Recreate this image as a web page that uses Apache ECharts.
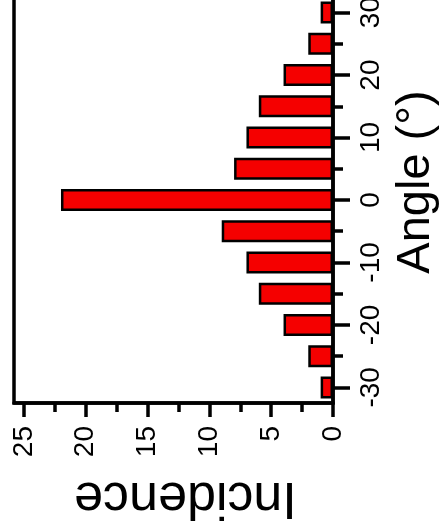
<!DOCTYPE html>
<html>
<head>
<meta charset="utf-8">
<script src="https://cdn.jsdelivr.net/npm/echarts@6/dist/echarts.min.js"></script>
<style>
html,body{margin:0;padding:0;background:#fff;}
#chart{width:441px;height:532px;}
</style>
</head>
<body>
<div id="chart"></div>
<script>
// Data
const angleCats = ['-30','-25','-20','-15','-10','-5','0','5','10','15','20','25','30'];
const incidence = [1, 2, 4, 6, 7, 9, 22, 8, 7, 6, 4, 2, 1];
const incMajorTicks = [0, 5, 10, 15, 20, 25];
const incMinorTicks = [2.5, 7.5, 12.5, 17.5, 22.5];

const FONT = 'Liberation Sans, Arial, sans-serif';
const LW = 3.5;

const chart = echarts.init(document.getElementById('chart'), null, {renderer: 'canvas'});
chart.setOption({
  animation: false,
  backgroundColor: '#fff',
  grid: {
    left: 14, right: 108, top: -3, bottom: 129,
    containLabel: false, outerBoundsMode: 'none',
    show: true, borderColor: '#000', borderWidth: LW, backgroundColor: 'transparent'
  },
  xAxis: [
    {
      type: 'value', min: 0, max: 25.8, inverse: true, position: 'bottom',
      splitLine: {show: false},
      axisLine: {show: true, lineStyle: {color: '#000', width: LW}},
      axisTick: {show: true, customValues: incMajorTicks, length: 14, lineStyle: {color: '#000', width: LW}},
      axisLabel: {customValues: incMajorTicks, rotate: 90, fontSize: 28, margin: 23, color: '#000', fontFamily: FONT},
      name: 'Incidence', nameLocation: 'middle', nameRotate: 180, nameGap: 68,
      nameTextStyle: {fontSize: 52, color: '#000', fontFamily: FONT, padding: [0, 24, 0, 0]}
    },
    {
      type: 'value', min: 0, max: 25.8, inverse: true, position: 'bottom',
      splitLine: {show: false},
      axisLine: {show: false},
      axisTick: {show: true, customValues: incMinorTicks, length: 9, lineStyle: {color: '#000', width: LW}},
      axisLabel: {show: false}
    }
  ],
  yAxis: [
    {
      type: 'category', data: angleCats, position: 'right', boundaryGap: true,
      axisLine: {show: true, lineStyle: {color: '#000', width: LW}},
      axisTick: {show: true, alignWithLabel: true, interval: 1, length: 17, lineStyle: {color: '#000', width: LW}},
      axisLabel: {interval: 1, rotate: 90, fontSize: 28, margin: 24, color: '#000', fontFamily: FONT},
      splitLine: {show: false},
      name: 'Angle (°)', nameLocation: 'middle', nameRotate: 90, nameGap: 57,
      nameTextStyle: {fontSize: 47, color: '#000', fontFamily: FONT, padding: [0, 0, 0, 36]}
    },
    {
      type: 'category', data: angleCats, position: 'right', boundaryGap: true,
      axisLine: {show: false},
      axisTick: {show: true, alignWithLabel: true, interval: function (i) { return i % 2 === 1; }, length: 10, lineStyle: {color: '#000', width: LW}},
      axisLabel: {show: false},
      splitLine: {show: false}
    }
  ],
  series: [{
    type: 'bar',
    xAxisIndex: 0, yAxisIndex: 0,
    data: incidence,
    barWidth: 22,
    itemStyle: {color: '#f50000', borderColor: '#000', borderWidth: 2.5}
  }]
});
</script>
</body>
</html>
